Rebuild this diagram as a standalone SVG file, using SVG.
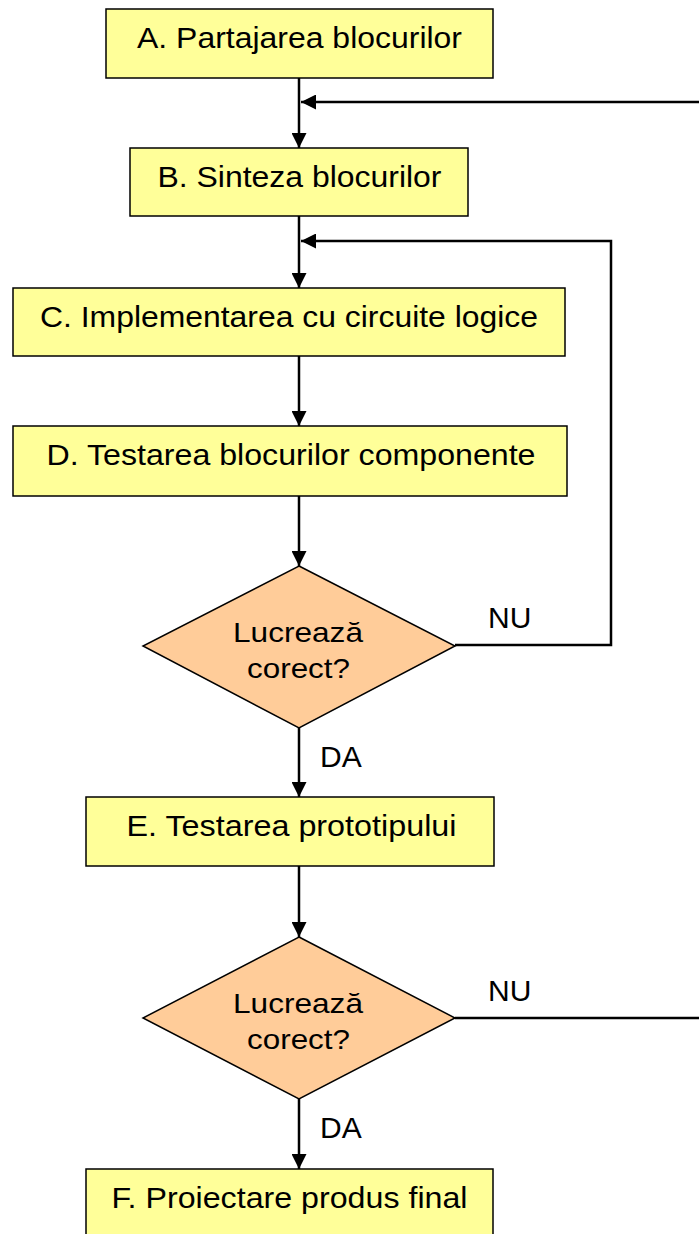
<svg xmlns="http://www.w3.org/2000/svg" width="699" height="1234" viewBox="0 0 699 1234">
<style>
.box{fill:#FFFF99;stroke:#000;stroke-width:1.5}
.dia{fill:#FFCC99;stroke:#000;stroke-width:1.5}
.t{font-family:"Liberation Sans",Arial,sans-serif;font-size:29px;fill:#000;text-anchor:middle}
.lbl{font-family:"Liberation Sans",Arial,sans-serif;font-size:30px;fill:#000}
.c{fill:none;stroke:#000;stroke-width:2.5}
</style>
<defs>
<marker id="ah" markerUnits="userSpaceOnUse" markerWidth="16" markerHeight="15" refX="15" refY="7.5" orient="auto">
<path d="M0,0 L15,7.5 L0,15 z" fill="#000"/>
</marker>
</defs>
<rect width="699" height="1234" fill="#fff"/>
<g id="connectors">
<path class="c" d="M299,78 V148" marker-end="url(#ah)"/>
<path class="c" d="M699,102 H301" marker-end="url(#ah)"/>
<path class="c" d="M299,216 V288" marker-end="url(#ah)"/>
<path class="c" d="M455,645 H611 V241 H301" marker-end="url(#ah)"/>
<path class="c" d="M299,356 V426" marker-end="url(#ah)"/>
<path class="c" d="M299,496 V566" marker-end="url(#ah)"/>
<path class="c" d="M299,728 V797" marker-end="url(#ah)"/>
<path class="c" d="M299,866 V937" marker-end="url(#ah)"/>
<path class="c" d="M455,1018 H699"/>
<path class="c" d="M299,1099 V1169" marker-end="url(#ah)"/>
<text class="lbl" x="488" y="628">NU</text>
<text class="lbl" x="320" y="767">DA</text>
<text class="lbl" x="488" y="1001">NU</text>
<text class="lbl" x="320" y="1138">DA</text>
</g>
<g id="A">
<rect class="box" x="106" y="9" width="387" height="69"/>
<text class="t" x="299.5" y="48" textLength="325" lengthAdjust="spacingAndGlyphs">A. Partajarea blocurilor</text>
</g>
<g id="B">
<rect class="box" x="130" y="148" width="338" height="68"/>
<text class="t" x="299.5" y="187" textLength="284" lengthAdjust="spacingAndGlyphs">B. Sinteza blocurilor</text>
</g>
<g id="C">
<rect class="box" x="13" y="288" width="552" height="68"/>
<text class="t" x="289" y="327" textLength="498" lengthAdjust="spacingAndGlyphs">C. Implementarea cu circuite logice</text>
</g>
<g id="D">
<rect class="box" x="13" y="426" width="554" height="70"/>
<text class="t" x="291" y="465" textLength="489" lengthAdjust="spacingAndGlyphs">D. Testarea blocurilor componente</text>
</g>
<g id="Q1">
<polygon class="dia" points="299,566 455,646 299,728 143,646"/>
<text class="t" x="298" y="642" font-size="28" textLength="130" lengthAdjust="spacingAndGlyphs" style="font-size:28px">Lucrează</text>
<text class="t" x="298.5" y="678" textLength="103" lengthAdjust="spacingAndGlyphs" style="font-size:28px">corect?</text>
</g>
<g id="E">
<rect class="box" x="86" y="797" width="408" height="69"/>
<text class="t" x="291.5" y="836" textLength="330" lengthAdjust="spacingAndGlyphs">E. Testarea prototipului</text>
</g>
<g id="Q2">
<polygon class="dia" points="299,937 455,1018 299,1099 143,1018"/>
<text class="t" x="298" y="1013" textLength="130" lengthAdjust="spacingAndGlyphs" style="font-size:28px">Lucrează</text>
<text class="t" x="298.5" y="1049" textLength="103" lengthAdjust="spacingAndGlyphs" style="font-size:28px">corect?</text>
</g>
<g id="F">
<rect class="box" x="86" y="1169" width="407" height="72"/>
<text class="t" x="289.5" y="1208" textLength="356" lengthAdjust="spacingAndGlyphs">F. Proiectare produs final</text>
</g>
</svg>
